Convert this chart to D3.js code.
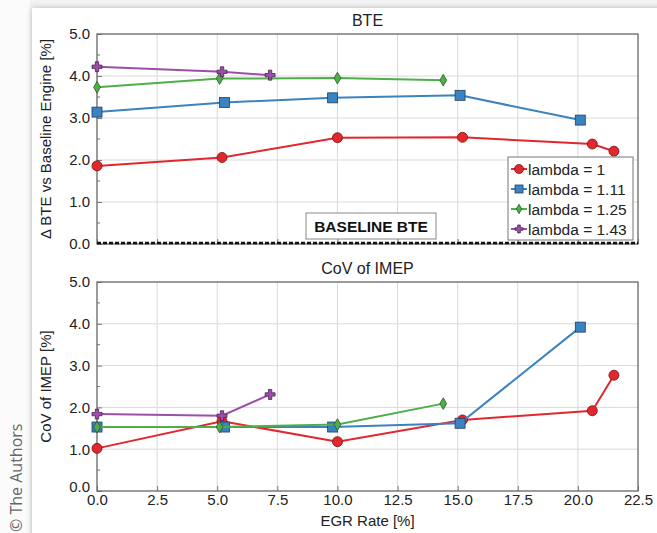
<!DOCTYPE html>
<html>
<head>
<meta charset="utf-8">
<script src="https://cdn.jsdelivr.net/npm/d3@7"></script>
<style>
  body { margin: 0; background: #f3f3f3; }
  svg { font-family: "Liberation Sans", Arial, sans-serif; }
</style>
</head>
<body>
<svg id="chart" width="657" height="533"></svg>
<script>
// data
var seriesNames = ["lambda = 1", "lambda = 1.11", "lambda = 1.25", "lambda = 1.43"];
var seriesColors = ["#e0282e", "#3b82c0", "#4fae4a", "#9b4fa8"];
var seriesMarkers = ["circle", "square", "diamond", "plus"];

var egrRed = [0, 5.2, 10.0, 15.2, 20.6, 21.5];
var egrBlue = [0, 5.3, 9.8, 15.1, 20.1];
var egrGreen = [0, 5.1, 10.0, 14.4];
var egrPurple = [0, 5.2, 7.2];

var bteRed = [1.86, 2.06, 2.53, 2.54, 2.38, 2.21];
var bteBlue = [3.14, 3.37, 3.48, 3.54, 2.95];
var bteGreen = [3.73, 3.94, 3.95, 3.90];
var btePurple = [4.22, 4.10, 4.02];

var covRed = [1.02, 1.67, 1.18, 1.70, 1.92, 2.77];
var covBlue = [1.53, 1.53, 1.53, 1.62, 3.92];
var covGreen = [1.53, 1.53, 1.59, 2.09];
var covPurple = [1.84, 1.80, 2.31];

var xTicks = [0, 2.5, 5, 7.5, 10, 12.5, 15, 17.5, 20, 22.5];
var yTicks = [0, 1, 2, 3, 4, 5];
var yMinorTicks = [0.5, 1.5, 2.5, 3.5, 4.5];

var egrData = [egrRed, egrBlue, egrGreen, egrPurple];
var bteData = [bteRed, bteBlue, bteGreen, btePurple];
var covData = [covRed, covBlue, covGreen, covPurple];

var svg = d3.select("#chart");

// card-like white panel
var defs = svg.append("defs");
var shadow = defs.append("filter").attr("id", "shadow")
  .attr("x", "-5%").attr("y", "-5%").attr("width", "110%").attr("height", "110%");
shadow.append("feGaussianBlur").attr("in", "SourceAlpha").attr("stdDeviation", 3);
shadow.append("feOffset").attr("dx", 0).attr("dy", 0);
shadow.append("feComponentTransfer").append("feFuncA").attr("type", "linear").attr("slope", 0.25);
var merge = shadow.append("feMerge");
merge.append("feMergeNode");
merge.append("feMergeNode").attr("in", "SourceGraphic");

svg.append("rect").attr("x", 0).attr("y", 0).attr("width", 30).attr("height", 533).attr("fill", "#fbfbfb");
svg.append("rect").attr("x", 32).attr("y", 8).attr("width", 640).attr("height", 540)
  .attr("fill", "#ffffff").attr("filter", "url(#shadow)");

svg.append("text")
  .attr("transform", "translate(22, 532) rotate(-90)")
  .attr("font-family", "'Open Sans', 'Noto Sans', sans-serif")
  .attr("font-size", 16).attr("fill", "#666")
  .text("\u00a9 The Authors");

var left = 97, right = 638;
var x = d3.scaleLinear().domain([0, 22.5]).range([left, right]);

var panels = [
  { top: 34, bottom: 244, data: bteData, title: "BTE", ytitle: "\u0394 BTE vs Baseline Engine [%]", xlabels: false },
  { top: 282, bottom: 491, data: covData, title: "CoV of IMEP", ytitle: "CoV of IMEP [%]", xlabels: true }
];

function drawMarker(g, type, cx, cy, color, size) {
  var s = size || 1;
  if (type === "circle") {
    g.append("circle").attr("cx", cx).attr("cy", cy).attr("r", 5 * s)
      .attr("fill", color).attr("stroke", "#7a1010").attr("stroke-width", 0.8);
  } else if (type === "square") {
    g.append("rect").attr("x", cx - 5 * s).attr("y", cy - 5 * s).attr("width", 10 * s).attr("height", 10 * s)
      .attr("fill", color).attr("stroke", "#1d3f63").attr("stroke-width", 0.8);
  } else if (type === "diamond") {
    g.append("path").attr("d", d3.symbol().type(d3.symbolDiamond).size(40 * s * s)())
      .attr("transform", "translate(" + cx + "," + cy + ")")
      .attr("fill", color).attr("stroke", "#245a22").attr("stroke-width", 0.8);
  } else {
    g.append("path").attr("d", d3.symbol().type(d3.symbolCross).size(55 * s * s)())
      .attr("transform", "translate(" + cx + "," + cy + ")")
      .attr("fill", color).attr("stroke", "#4a2150").attr("stroke-width", 0.8);
  }
}

panels.forEach(function(p, pi) {
  var y = d3.scaleLinear().domain([0, 5]).range([p.bottom, p.top]);
  var g = svg.append("g");

  // gridlines
  g.selectAll(".gx").data(xTicks.slice(1, -1)).enter().append("line")
    .attr("x1", d => x(d)).attr("x2", d => x(d))
    .attr("y1", p.top).attr("y2", p.bottom)
    .attr("stroke", "#d9d9d9").attr("stroke-width", 1);
  g.selectAll(".gy").data(yTicks.slice(1, -1)).enter().append("line")
    .attr("x1", left).attr("x2", right)
    .attr("y1", d => y(d)).attr("y2", d => y(d))
    .attr("stroke", "#d9d9d9").attr("stroke-width", 1);

  // axes with inward ticks
  var yAxis = d3.axisLeft(y).tickValues(yTicks).tickFormat(d3.format(".1f")).tickSizeInner(-5).tickSizeOuter(0).tickPadding(7);
  var yAx = g.append("g").attr("transform", "translate(" + left + ",0)").call(yAxis);
  yAx.select(".domain").remove();
  yAx.selectAll("line").attr("stroke", "#777");
  yAx.selectAll("text").attr("font-size", 15).attr("fill", "#222");

  g.selectAll(".my").data(yMinorTicks).enter().append("line")
    .attr("x1", left).attr("x2", left + 3)
    .attr("y1", d => y(d)).attr("y2", d => y(d))
    .attr("stroke", "#777");

  var xAxis = d3.axisBottom(x).tickValues(xTicks).tickFormat(d3.format(".1f")).tickSizeInner(-5).tickSizeOuter(0).tickPadding(3);
  var xAx = g.append("g").attr("transform", "translate(0," + p.bottom + ")").call(xAxis);
  xAx.select(".domain").remove();
  xAx.selectAll("line").attr("stroke", "#777");
  xAx.selectAll("text").attr("font-size", 15).attr("fill", "#222");
  if (!p.xlabels) xAx.selectAll("text").remove();
  else {
    yAx.selectAll("text").filter(d => d === 0).attr("dy", "0.05em");
  }

  // frame
  g.append("rect").attr("x", left).attr("y", p.top).attr("width", right - left).attr("height", p.bottom - p.top)
    .attr("fill", "none").attr("stroke", "#666").attr("stroke-width", 1.3);

  // titles
  g.append("text").attr("x", (left + right) / 2).attr("y", p.top - 8)
    .attr("text-anchor", "middle").attr("font-size", 16).attr("fill", "#222").text(p.title);
  g.append("text")
    .attr("transform", "translate(51," + ((p.top + p.bottom) / 2) + ") rotate(-90)")
    .attr("text-anchor", "middle").attr("font-size", 15).attr("fill", "#222").text(p.ytitle);

  if (pi === 0) {
    // baseline
    g.append("line").attr("x1", left).attr("x2", right).attr("y1", y(0) - 1).attr("y2", y(0) - 1)
      .attr("stroke", "#111").attr("stroke-width", 2.5).attr("stroke-dasharray", "4,2");
    g.append("rect").attr("x", 306).attr("y", 213).attr("width", 130).attr("height", 26)
      .attr("fill", "#fff").attr("stroke", "#888").attr("stroke-width", 1);
    g.append("text").attr("x", 371).attr("y", 232).attr("text-anchor", "middle")
      .attr("font-size", 15.5).attr("font-weight", "bold").attr("fill", "#111").text("BASELINE BTE");
  }

  var line = d3.line().x(d => x(d[0])).y(d => y(d[1]));
  p.data.forEach(function(vals, si) {
    var pts = egrData[si].map((e, i) => [e, vals[i]]);
    g.append("path").attr("d", line(pts)).attr("fill", "none")
      .attr("stroke", seriesColors[si]).attr("stroke-width", 2);
    pts.forEach(function(pt) {
      drawMarker(g, seriesMarkers[si], x(pt[0]), y(pt[1]), seriesColors[si]);
    });
  });

  if (pi === 0) {
    // legend
    var lg = svg.append("g").attr("transform", "translate(508,157)");
    lg.append("rect").attr("width", 125).attr("height", 83)
      .attr("fill", "#fff").attr("stroke", "#777").attr("stroke-width", 1);
    seriesNames.forEach(function(name, i) {
      var ly = 12 + i * 20;
      lg.append("line").attr("x1", 3).attr("x2", 19).attr("y1", ly).attr("y2", ly)
        .attr("stroke", seriesColors[i]).attr("stroke-width", 2);
      drawMarker(lg, seriesMarkers[i], 11, ly, seriesColors[i], i === 0 ? 0.9 : 0.8);
      lg.append("text").attr("x", 20).attr("y", ly + 5.5).attr("font-size", 15.5)
        .attr("fill", "#222").text(name);
    });
  }
});

svg.append("text").attr("x", x(11.25)).attr("y", 526).attr("text-anchor", "middle")
  .attr("font-size", 15).attr("fill", "#222").text("EGR Rate [%]");
</script>
</body>
</html>
